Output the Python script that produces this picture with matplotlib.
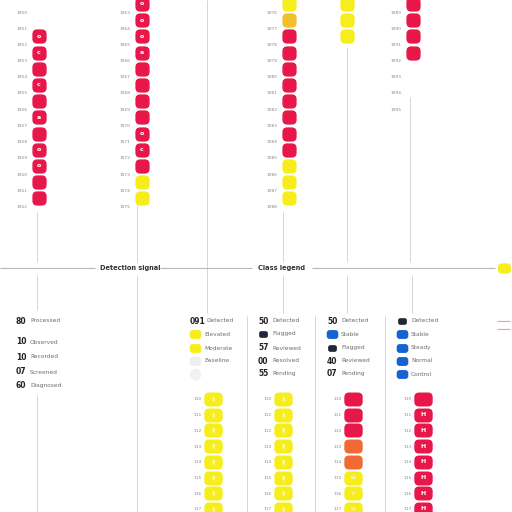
import matplotlib.pyplot as plt
from matplotlib.patches import FancyBboxPatch

# ---- top panel columns (state per row: R red, Y yellow, A amber, '' empty)
col1_years = ['1950', '1951', '1952', '1953', '1954', '1955', '1956',
              '1957', '1958', '1959', '1960', '1961', '1962']
col1_state = ['', '', 'R', 'R', 'R', 'R', 'R', 'R', 'R', 'R', 'R', 'R', 'R']
col1_glyph = ['', '', 'o', 'c', '', 'c', '', 'a', '', 'o', 'o', '', '']

col2_years = ['1963', '1964', '1965', '1966', '1967', '1968', '1969',
              '1970', '1971', '1972', '1973', '1974', '1975']
col2_state = ['R', 'R', 'R', 'R', 'R', 'R', 'R', 'R', 'R', 'R', 'R', 'Y', 'Y']
col2_glyph = ['o', 'o', 'o', 'a', '', '', '', '', 'o', 'c', '', '', '']

col3_years = ['1976', '1977', '1978', '1979', '1980', '1981', '1982',
              '1983', '1984', '1985', '1986', '1987', '1988']
col3_state = ['Y', 'A', 'R', 'R', 'R', 'R', 'R', 'R', 'R', 'R', 'Y', 'Y', 'Y']

col4_state = ['Y', 'Y', 'Y']

col5_years = ['1989', '1990', '1991', '1992', '1993', '1994', '1995']
col5_state = ['R', 'R', 'R', 'R', '', '', '']

# ---- bottom panel columns
bot_labels = ['110', '111', '112', '113', '114', '115', '116', '117']
botA_state = ['Y', 'Y', 'Y', 'Y', 'Y', 'Y', 'Y', 'Y']
botB_state = ['Y', 'Y', 'Y', 'Y', 'Y', 'Y', 'Y', 'Y']
botC_state = ['R', 'R', 'R', 'O', 'O', 'Y', 'Y', 'Y']
botC_glyph = ['', '', '', '', '', 'u', 'r', 'u']
botD_state = ['R', 'R', 'R', 'R', 'R', 'R', 'R', 'R']
botD_glyph = ['', 'H', 'H', 'H', 'H', 'H', 'H', 'H']
pale_glyph = ['▮'] * 8

# ---- legend blocks: number code or swatch code, label
key0 = [('80', 'Processed'), ('10', 'Observed'), ('10', 'Recorded'),
        ('07', 'Screened'), ('60', 'Diagnosed')]
key1 = [('091', 'Detected'), ('Y', 'Elevated'), ('Y', 'Moderate'),
        ('G', 'Baseline'), ('g', '')]
key2 = [('50', 'Detected'), ('D', 'Flagged'), ('57', 'Reviewed'),
        ('00', 'Resolved'), ('55', 'Pending')]
key3 = [('50', 'Detected'), ('B', 'Stable'), ('D', 'Flagged'),
        ('40', 'Reviewed'), ('07', 'Pending')]
key4 = [('D', 'Detected'), ('B', 'Stable'), ('B', 'Steady'),
        ('B', 'Normal'), ('B', 'Control')]

COLORS = {'R': '#E8174A', 'Y': '#F6EE1C', 'A': '#F2BE2A', 'O': '#F26A33'}
SWATCH = {'Y': '#F6EE1C', 'G': '#EFEFEF', 'g': '#F2F2F2',
          'D': '#1E2838', 'B': '#1463D0'}

W = H = 512


def box(left, top, width, height):
    return [left / W, 1 - (top + height) / H, width / W, height / H]


def rounded(w, h, r):
    p = FancyBboxPatch((-w / 2, -h / 2), w, h,
                       boxstyle=f'round,pad=0,rounding_size={r}')
    return p.get_path()


SQ = rounded(1.0, 1.0, 0.34)
WIDE = rounded(1.25, 0.95, 0.32)

fig = plt.figure(figsize=(5.12, 5.12), dpi=100)
bg = fig.add_axes([0, 0, 1, 1])
bg.set_xlim(0, W)
bg.set_ylim(H, 0)
bg.axis('off')

# thin rules
rule_x = [37, 37, 37, 137, 137, 207, 247, 283, 283, 315, 347, 347, 385, 410, 412]
rule_y0 = [212, 275, 395, 205, 275, 0, 316, 212, 275, 316, 47, 275, 316, 97, 275]
rule_y1 = [262, 310, 512, 262, 512, 313, 512, 262, 313, 512, 262, 313, 512, 262, 313]
bg.vlines(rule_x, rule_y0, rule_y1, colors='#D6D6D6', lw=0.7)

# section divider
div_y = [268, 268, 268]
div_x0 = [0, 160, 312]
div_x1 = [95, 252, 495]
bg.hlines(div_y, div_x0, div_x1, colors='#B8B8B8', lw=0.8)
bg.text(100, 268, 'Detection signal', fontsize=4.8, fontweight='bold',
        color='#333333', va='center')
bg.text(258, 268, 'Class legend', fontsize=4.8, fontweight='bold',
        color='#333333', va='center')
bg.scatter([504], [268], marker=WIDE, s=70, color='#F6EE1C')
bg.hlines([321, 329], 497, 510, colors='#F4A3B5', lw=0.9)


def draw_column(x, top, height, row0, pitch, labels, states, glyphs,
                shape, size, shift, glyph_color='white', glyph_alpha=1.0):
    ax = fig.add_axes(box(x - 9, top, 18, height))
    ax.set_facecolor('none')
    ax.set_xlim(-0.5, 0.5)
    ax.set_ylim((top + height - row0) / pitch, (top - row0) / pitch)
    for s in ax.spines.values():
        s.set_visible(False)
    ax.set_xticks([])
    ax.set_yticks(range(len(labels)), labels)
    ax.tick_params(length=0, pad=1.5, labelsize=3.2, labelcolor='#8A8A8A')
    for k, st in enumerate(states):
        if not st:
            continue
        ax.scatter(0, k + shift, marker=shape, s=size, color=COLORS[st],
                   linewidths=0, clip_on=False)
        if glyphs and glyphs[k]:
            ax.text(0, k + shift, glyphs[k], ha='center', va='center',
                    color=glyph_color, alpha=glyph_alpha, fontsize=4.5,
                    fontweight='bold', clip_on=False)
    return ax


# top panel
draw_column(39, 0, 214, 12, 16.2, col1_years, col1_state, col1_glyph, SQ, 105, -0.5)
draw_column(142, 0, 214, 12, 16.2, col2_years, col2_state, col2_glyph, SQ, 105, -0.5)
draw_column(289, 0, 214, 12, 16.2, col3_years, col3_state, None, SQ, 105, -0.5)
draw_column(347, 0, 214, 12, 16.2, [], col4_state, None, SQ, 105, -0.5)
draw_column(413, 0, 214, 12, 16.2, col5_years, col5_state, None, SQ, 105, -0.5)

# bottom panel
draw_column(213, 390, 122, 399, 15.7, bot_labels, botA_state, pale_glyph, WIDE, 175, 0,
            glyph_alpha=0.6)
draw_column(283, 390, 122, 399, 15.7, bot_labels, botB_state, pale_glyph, WIDE, 175, 0,
            glyph_alpha=0.6)
draw_column(353, 390, 122, 399, 15.7, bot_labels, botC_state, botC_glyph, WIDE, 175, 0,
            glyph_alpha=0.7)
draw_column(423, 390, 122, 399, 15.7, bot_labels, botD_state, botD_glyph, WIDE, 175, 0)

# legend blocks
key_blocks = [key0, key1, key2, key3, key4]
key_x = [16, 190, 258, 327, 397]
key_rows = [[321, 342, 357, 372, 386], [321, 334, 348, 361, 374],
            [321, 334, 348, 361, 374], [321, 334, 348, 361, 374],
            [321, 334, 348, 361, 374]]

for entries, x, rows in zip(key_blocks, key_x, key_rows):
    for (code, label), y in zip(entries, rows):
        if code in SWATCH:
            size = 40 if code == 'D' else 70
            mk = 'o' if code == 'g' else WIDE
            bg.scatter([x + 5], [y], marker=mk, s=size, color=SWATCH[code], linewidths=0)
        else:
            bg.text(x, y, code, fontsize=5.5, fontweight='bold', color='#222222',
                    va='center')
        if label:
            bg.text(x + 14 + 2 * (len(code) > 2), y, label, fontsize=4.2,
                    color='#6E6E6E', va='center')

fig.savefig('out.png', dpi=100, facecolor='white')
